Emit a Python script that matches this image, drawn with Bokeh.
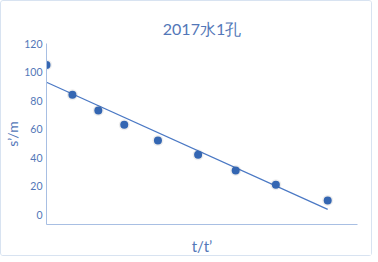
import numpy as np
from bokeh.plotting import figure
from bokeh.models import Range1d, FixedTicker
from bokeh.embed import file_html
from bokeh.resources import INLINE

# data
t_ratio = [0, 1, 2, 3, 4.3, 5.85, 7.3, 8.85, 10.85]
s_prime = [105, 84, 73, 63, 52, 42, 31, 21, 10]
y_ticks = [0, 20, 40, 60, 80, 100, 120]

FONT = "Lato"
BLUE_TXT = "#5377b8"

p = figure(width=372, height=256, output_backend="svg", toolbar_location=None,
           x_range=Range1d(0, 12), y_range=Range1d(-6.9, 120),
           min_border_left=45, min_border_right=16, min_border_top=42, min_border_bottom=31)
p.styles = {"border": "1px solid #d8e3f1", "border-radius": "3px"}
p.outline_line_color = None
p.background_fill_color = "white"
p.border_fill_color = "white"
p.grid.grid_line_color = None

p.title.text = "2017水1孔"
p.title.align = "center"
p.title.text_font = FONT
p.title.text_font_size = "16px"
p.title.text_font_style = "normal"
p.title.text_color = BLUE_TXT
p.title.standoff = 12

# y axis
p.yaxis.ticker = FixedTicker(ticks=y_ticks)
p.yaxis.major_tick_line_color = None
p.yaxis.major_tick_out = 0
p.yaxis.major_tick_in = 0
p.yaxis.minor_tick_line_color = None
p.yaxis.minor_tick_out = 0
p.yaxis.axis_line_color = "#a8bfe3"
p.yaxis.major_label_text_font = FONT
p.yaxis.major_label_text_font_size = "10.5px"
p.yaxis.major_label_text_color = BLUE_TXT
p.yaxis.major_label_standoff = 4
p.yaxis.axis_label = "s’/m"
p.yaxis.axis_label_text_font = FONT
p.yaxis.axis_label_text_font_size = "14px"
p.yaxis.axis_label_text_font_style = "normal"
p.yaxis.axis_label_text_color = BLUE_TXT
p.yaxis.axis_label_standoff = 0

# x axis
p.xaxis.ticker = FixedTicker(ticks=[])
p.xaxis.major_tick_line_color = None
p.xaxis.major_tick_out = 0
p.xaxis.major_tick_in = 0
p.xaxis.minor_tick_line_color = None
p.xaxis.minor_tick_out = 0
p.xaxis.axis_line_color = "#a8bfe3"
p.xaxis.axis_label = "t/t’"
p.xaxis.axis_label_text_font = FONT
p.xaxis.axis_label_text_font_size = "15px"
p.xaxis.axis_label_text_font_style = "normal"
p.xaxis.axis_label_text_color = BLUE_TXT
p.xaxis.axis_label_standoff = 12

# trendline by linear regression
k, b = np.polyfit(t_ratio, s_prime, 1)
xl = [min(t_ratio), max(t_ratio)]
p.line(xl, [k * v + b for v in xl], line_color="#4a78c4", line_width=1.2)

p.scatter(t_ratio, s_prime, size=11, fill_color="#000000", fill_alpha=0.07, line_color=None)
p.scatter(t_ratio, s_prime, size=8, fill_color="#3466b2", line_color=None)

open("out.html", "w").write(file_html(p, INLINE))
